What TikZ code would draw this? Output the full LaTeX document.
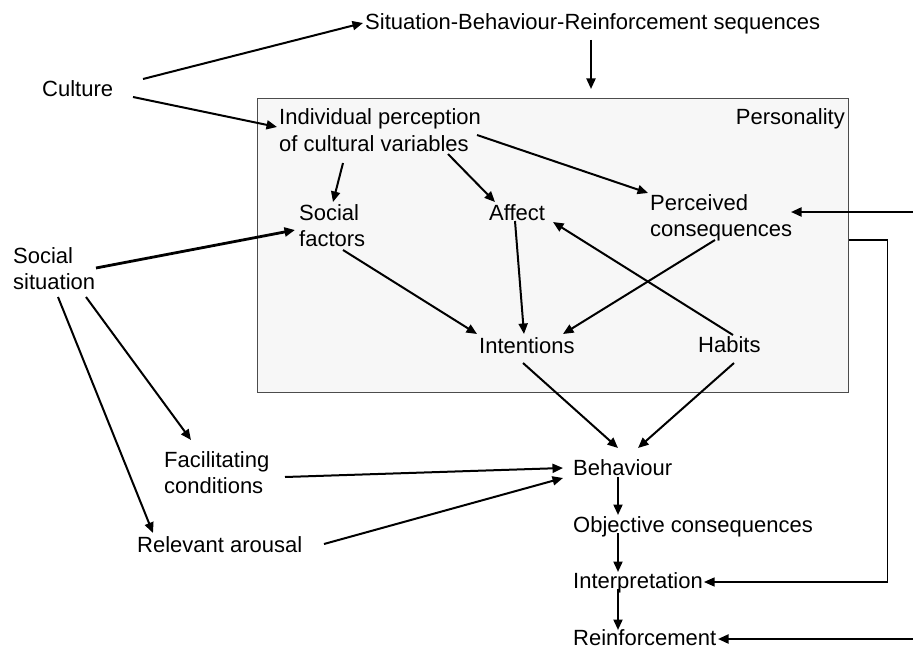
\documentclass[tikz,border=0pt]{standalone}
\usepackage{fontspec}
\setmainfont{Liberation Sans}
\usetikzlibrary{arrows.meta}
\newcommand{\twoline}[2]{\begin{tabular}[t]{@{}l@{}}#1\\#2\end{tabular}}
\begin{document}
\begin{tikzpicture}[x=1pt,y=-1pt,
  lbl/.style={inner sep=0pt, anchor=base west, font=\fontsize{22}{26.3}\selectfont},
  arr/.style={line width=2pt, -{Triangle[length=10.5pt,width=9pt]}},
  thickarr/.style={line width=2.8pt, -{Triangle[length=10.5pt,width=9pt]}},
  fb/.style={line width=1.2pt, -{Triangle[length=10.5pt,width=9pt]}},
  boxstyle/.style={draw=black!70, fill=black!3, line width=1.2pt, inner sep=0pt,
    minimum width=591pt, minimum height=294pt, anchor=north west}]
\useasboundingbox (0,0) rectangle (913,650);
\node[boxstyle] (box) at (257,98) {};
% labels
\node[lbl] (sbr) at (365,30) {Situation-Behaviour-Reinforcement sequences};
\node[lbl] (cul) at (42,97) {Culture};
\node[lbl] (ip) at (279,125) {\twoline{Individual perception}{of cultural variables}};
\node[lbl, anchor=base east] (pers) at (845,125) {Personality};
\node[lbl] (sf) at (299,220) {\twoline{Social}{factors}};
\node[lbl] (aff) at (489,220) {Affect};
\node[lbl] (perc) at (650,210) {\twoline{Perceived}{consequences}};
\node[lbl] (ss) at (13,263) {\twoline{Social}{situation}};
\node[lbl] (int) at (479,353) {Intentions};
\node[lbl] (hab) at (698,352) {Habits};
\node[lbl] (fc) at (164,467) {\twoline{Facilitating}{conditions}};
\node[lbl] (beh) at (573,475) {Behaviour};
\node[lbl] (ra) at (137,552) {Relevant arousal};
\node[lbl] (obj) at (573,532) {Objective consequences};
\node[lbl] (interp) at (573,588) {Interpretation};
\node[lbl] (reinf) at (573,645) {Reinforcement};
\coordinate (e1) at (913,212);
\coordinate (e2) at (913,639);
% connectors
\draw[arr] ([shift={(101,-18)}]cul.base west) -- ([shift={(-2,-7)}]sbr.base west);
\draw[arr] ([shift={(91,0)}]cul.base west) -- ([shift={(-2,2)}]ip.base west);
\draw[arr] ([shift={(226,10)}]sbr.base west) -- ([shift={(334,-9)}]box.north west);
\draw[arr] ([shift={(64,38)}]ip.base west) -- ([shift={(34,-18)}]sf.base west);
\draw[arr] ([shift={(169,29)}]ip.base west) -- ([shift={(6,-18)}]aff.base west);
\draw[arr] ([shift={(198,10)}]ip.base west) -- ([shift={(-2,-17)}]perc.base west);
\draw[thickarr] ([shift={(83,5)}]ss.base west) -- ([shift={(-4,10)}]sf.base west);
\draw[arr] ([shift={(44,30)}]sf.base west) -- ([shift={(-2,-19)}]int.base west);
\draw[arr] ([shift={(26,1)}]aff.base west) -- ([shift={(45,-19)}]int.base west);
\draw[arr] ([shift={(35,-17)}]hab.base west) -- ([shift={(64,2)}]aff.base west);
\draw[arr] ([shift={(65,30)}]perc.base west) -- ([shift={(84,-19)}]int.base west);
\draw[arr] (e1) -- ([shift={(141,2)}]perc.base west);
\draw[fb] ([shift={(0,142)}]box.north east) -- ++(38,0) |- ([shift={(131,-6)}]interp.base west);
\draw[arr] ([shift={(73,34)}]ss.base west) -- ([shift={(27,-27)}]fc.base west);
\draw[arr] ([shift={(45,34)}]ss.base west) -- ([shift={(16,-19)}]ra.base west);
\draw[arr] ([shift={(44,10)}]int.base west) -- ([shift={(45,-27)}]beh.base west);
\draw[arr] ([shift={(36,11)}]hab.base west) -- ([shift={(65,-27)}]beh.base west);
\draw[arr] ([shift={(121,10)}]fc.base west) -- ([shift={(-10,-7)}]beh.base west);
\draw[arr] ([shift={(187,-8)}]ra.base west) -- ([shift={(-10,3)}]beh.base west);
\draw[arr] ([shift={(45,2)}]beh.base west) -- ([shift={(45,-17)}]obj.base west);
\draw[arr] ([shift={(45,1)}]obj.base west) -- ([shift={(45,-16)}]interp.base west);
\draw[arr] ([shift={(45,1)}]interp.base west) -- ([shift={(45,-15)}]reinf.base west);
\draw[arr] (e2) -- ([shift={(145,-6)}]reinf.base west);
\end{tikzpicture}
\end{document}
